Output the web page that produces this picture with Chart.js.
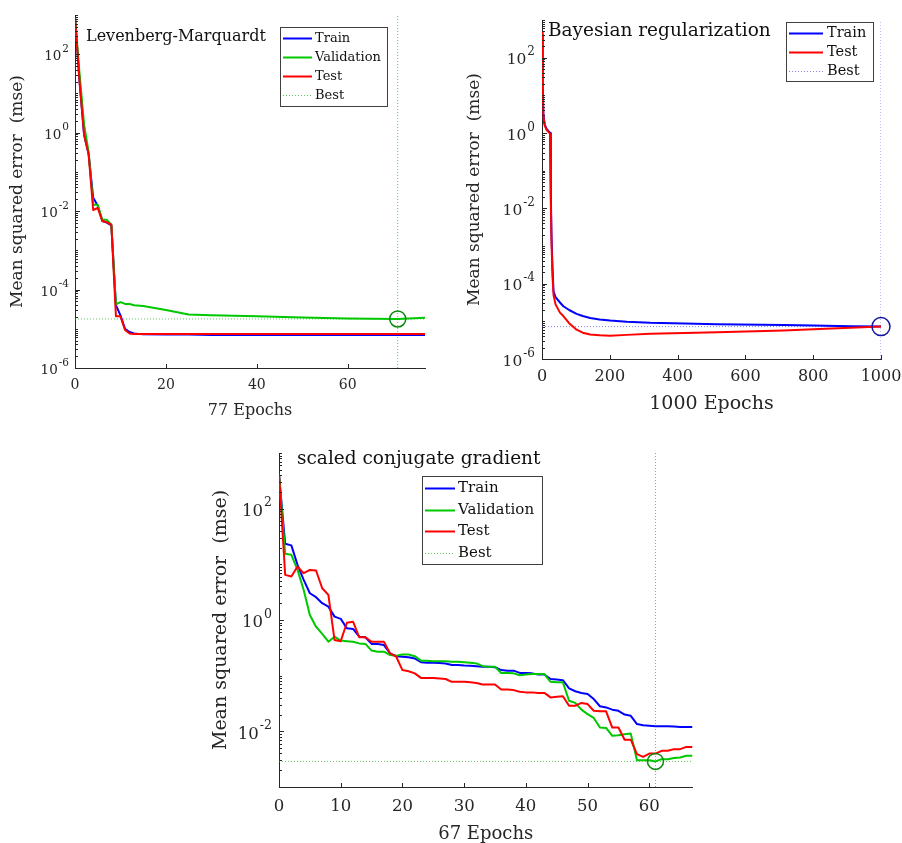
<!DOCTYPE html>
<html><head><meta charset="utf-8">
<script src="https://cdn.jsdelivr.net/npm/chart.js@4.4.1/dist/chart.umd.min.js"></script>
<style>
html,body{margin:0;padding:0;background:#fff;}
body{width:902px;height:843px;position:relative;overflow:hidden;}
.box{position:absolute;}
</style></head><body>
<div class="box" style="left:0;top:0;width:450px;height:430px"><canvas id="c1"></canvas></div>
<div class="box" style="left:450px;top:0;width:452px;height:430px"><canvas id="c2"></canvas></div>
<div class="box" style="left:200px;top:440px;width:502px;height:403px"><canvas id="c3"></canvas></div>
<script>
// ---------------- DATA ----------------
// Levenberg-Marquardt (77 epochs)
const lmEpochs = [0,1,2,3,4,5,6,7,8,9,10,11,12,13,15,20,25,30,40,50,60,71,77];
const lmTrain  = [890,20,0.89,0.28,0.022,0.0138,0.0056,0.0051,0.0043,4.0e-5,2.2e-5,1.0e-5,8.3e-6,7.6e-6,7.2e-6,7.1e-6,7.1e-6,6.9e-6,6.9e-6,6.9e-6,6.9e-6,6.9e-6,6.9e-6];
const lmVal    = [890,32,1.6,0.32,0.0145,0.0145,0.006,0.006,0.0045,4.2e-5,4.8e-5,4.3e-5,4.3e-5,4.0e-5,3.8e-5,3.0e-5,2.3e-5,2.2e-5,2.1e-5,1.95e-5,1.84e-5,1.78e-5,1.9e-5];
const lmTest   = [890,20,0.89,0.28,0.0107,0.012,0.0056,0.0052,0.0045,2.1e-5,2.1e-5,9.3e-6,7.6e-6,7.4e-6,7.4e-6,7.4e-6,7.4e-6,7.4e-6,7.4e-6,7.4e-6,7.4e-6,7.4e-6,7.4e-6];
const lmBestEpoch = 71, lmBest = 1.78e-5;

// Bayesian regularization (1000 epochs)
const brEpochs = [0,2,4,8,14,20,24,26,28,31,34,40,53,63,80,102,120,142,170,201,250,319,420,516,713,800,910,1000];
const brTrain  = [398,20,3.16,1.66,1.26,1.1,1.0,0.0251,0.002,2.51e-4,6.31e-5,4.37e-5,3.16e-5,2.51e-5,2.0e-5,1.58e-5,1.38e-5,1.23e-5,1.12e-5,1.05e-5,9.77e-6,9.12e-6,8.71e-6,8.32e-6,7.94e-6,7.76e-6,7.41e-6,7.24e-6];
const brTest   = [490,20,2.82,1.58,1.2,1.05,0.933,0.0158,0.00126,1.58e-4,5.0e-5,2.82e-5,1.7e-5,1.38e-5,8.9e-6,6.0e-6,5.0e-6,4.47e-6,4.27e-6,4.17e-6,4.37e-6,4.68e-6,4.9e-6,5.13e-6,5.75e-6,6.17e-6,6.76e-6,7.24e-6];
const brBestEpoch = 1000, brBest = 7.24e-6;

// Scaled conjugate gradient (67 epochs)
const scgEpochs = [0,1,2,3,4,5,6,7,8,9,10,11,12,13,14,15,16,17,18,19,20,21,22,23,24,25,26,27,28,29,30,31,32,33,34,35,36,37,38,39,40,41,42,43,44,45,46,47,48,49,50,51,52,53,54,55,56,57,58,59,60,61,62,63,64,65,66,67];
const scgTrain = [417,23.4,21.9,9.77,5.25,3.02,2.57,2.0,1.74,1.15,1.05,0.708,0.692,0.501,0.49,0.372,0.372,0.355,0.251,0.224,0.219,0.214,0.204,0.174,0.17,0.17,0.169,0.166,0.155,0.155,0.152,0.151,0.148,0.145,0.145,0.142,0.126,0.123,0.123,0.112,0.112,0.11,0.105,0.105,0.087,0.085,0.083,0.059,0.0525,0.049,0.0468,0.038,0.0282,0.0269,0.0245,0.0234,0.02,0.019,0.0135,0.0129,0.0126,0.0123,0.0123,0.0123,0.0122,0.012,0.012,0.012];
const scgVal   = [417,15.5,14.8,7.94,3.47,1.23,0.759,0.562,0.407,0.501,0.427,0.417,0.407,0.38,0.372,0.282,0.269,0.269,0.234,0.229,0.24,0.24,0.224,0.186,0.186,0.182,0.182,0.182,0.178,0.178,0.174,0.17,0.166,0.148,0.145,0.145,0.112,0.112,0.11,0.102,0.105,0.107,0.107,0.107,0.0776,0.0759,0.0759,0.0355,0.0324,0.0245,0.0204,0.0174,0.0117,0.0115,0.0083,0.0085,0.0089,0.0091,0.00302,0.00302,0.00302,0.00288,0.00316,0.00316,0.00331,0.00339,0.00363,0.00363];
const scgTest  = [417,6.46,6.03,9.12,6.92,7.94,7.76,3.72,2.82,0.437,0.417,0.891,0.933,0.49,0.49,0.407,0.407,0.407,0.251,0.219,0.126,0.12,0.11,0.0912,0.0912,0.0912,0.0891,0.0871,0.0776,0.0776,0.0776,0.0759,0.0741,0.0692,0.0692,0.0692,0.0562,0.0562,0.055,0.0513,0.0501,0.0501,0.049,0.049,0.0407,0.0417,0.0427,0.0288,0.0288,0.0324,0.0309,0.0234,0.0229,0.0229,0.0117,0.0117,0.00708,0.00708,0.00389,0.00347,0.00398,0.00398,0.00447,0.00447,0.00479,0.00479,0.00525,0.00525];
const scgBestEpoch = 61, scgBest = 0.00288;

// ---------------- RENDERING ----------------
const AX = '#262626';
const TXT = '#111111';
const FONT = '"DejaVu Serif", serif';
const xy = (xs, ys) => xs.map((x, i) => ({x: x, y: ys[i]}));

const overlay = {
  id: 'overlay',
  afterDraw(chart, args, o) {
    const ctx = chart.ctx;
    const {left, right, top, bottom} = chart.chartArea;
    const xs = chart.scales.x, ys = chart.scales.y;
    ctx.save();
    // inward tick marks
    ctx.strokeStyle = AX; ctx.lineWidth = 1; ctx.beginPath();
    xs.ticks.forEach(t => {
      const px = Math.round(xs.getPixelForValue(t.value)) + 0.5;
      ctx.moveTo(px, bottom); ctx.lineTo(px, bottom - o.xTick);
    });
    const e0 = Math.round(Math.log10(ys.min)), e1 = Math.round(Math.log10(ys.max));
    for (let e = e0; e <= e1; e++) {
      for (let m = 1; m <= 9; m++) {
        const v = m * Math.pow(10, e);
        if (v > ys.max * 1.0001) break;
        const py = Math.round(ys.getPixelForValue(v)) + 0.5;
        const len = (m === 1 && e % 2 === 0) ? o.major : o.minor;
        ctx.moveTo(left, py); ctx.lineTo(left + len, py);
      }
    }
    ctx.stroke();
    // y tick labels: 10 with raised exponent (even decades)
    ctx.fillStyle = AX; ctx.textAlign = 'right'; ctx.textBaseline = 'middle';
    const Y = o.ylab;
    for (let e = e0; e <= e1; e++) {
      if (e % 2 !== 0) continue;
      const py = ys.getPixelForValue(Math.pow(10, e));
      const es = String(e);
      ctx.font = Y.exp + 'px ' + FONT;
      const ew = ctx.measureText(es).width;
      ctx.fillText(es, left - Y.pad, py + Y.expDy);
      ctx.font = Y.base + 'px ' + FONT;
      ctx.fillText('10', left - Y.pad - ew - 1, py + Y.baseDy);
    }
    // in-plot title
    ctx.fillStyle = TXT; ctx.textAlign = 'left'; ctx.textBaseline = 'alphabetic';
    ctx.font = o.titleSize + 'px ' + FONT;
    ctx.fillText(o.title, o.titleX, o.titleY);
    // legend
    const L = o.legend;
    ctx.fillStyle = '#ffffff'; ctx.fillRect(L.x, L.y, L.w, L.h);
    ctx.strokeStyle = '#404040'; ctx.lineWidth = 1;
    ctx.strokeRect(L.x + 0.5, L.y + 0.5, L.w, L.h);
    ctx.font = L.size + 'px ' + FONT; ctx.textBaseline = 'middle';
    L.items.forEach((lab, i) => {
      const ds = chart.data.datasets.find(d => d.label === lab);
      const cy = Math.round(L.y + L.first + i * L.row) + 0.5;
      ctx.strokeStyle = ds.borderColor; ctx.lineWidth = ds.borderWidth;
      ctx.setLineDash(ds.borderDash || []);
      ctx.beginPath(); ctx.moveTo(L.lx0, cy); ctx.lineTo(L.lx1, cy); ctx.stroke();
      ctx.setLineDash([]);
      ctx.fillStyle = TXT; ctx.fillText(lab, L.tx, cy);
    });
    ctx.restore();
  }
};

function lineDs(label, data, color, order) {
  return {label, data, borderColor: color, backgroundColor: color, borderWidth: 2,
    pointRadius: 0, tension: 0, fill: false, order, borderJoinStyle: 'round'};
}

function makeChart(id, c) {
  const ds = [];
  c.series.forEach(s => ds.push(lineDs(s.label, xy(c.epochs, s.data), s.color, s.order)));
  ds.push({label: 'Best', data: [{x: c.xMin, y: c.best}, {x: c.xMax, y: c.best}],
    borderColor: c.bestLine, borderWidth: 1, borderDash: [1, 2], pointRadius: 0, order: 6, fill: false});
  ds.push({label: '_bestV', data: [{x: c.bestEpoch, y: c.yMin}, {x: c.bestEpoch, y: c.yMax}],
    borderColor: c.bestLine, borderWidth: 1, borderDash: [1, 2], pointRadius: 0, order: 6, fill: false});
  ds.push({label: '_bestPt', data: [{x: c.bestEpoch, y: c.best}], showLine: false,
    pointRadius: c.circleR, pointBorderWidth: 1.5, pointBorderColor: c.circle,
    pointBackgroundColor: 'rgba(0,0,0,0)', borderColor: c.circle, clip: false, order: 0});
  return new Chart(document.getElementById(id), {
    type: 'line',
    data: {datasets: ds},
    options: {
      responsive: true, maintainAspectRatio: false, animation: false, devicePixelRatio: 1,
      layout: {padding: c.pad},
      plugins: {legend: {display: false}, tooltip: {enabled: false}, overlay: c.overlay},
      scales: {
        x: {type: 'linear', min: c.xMin, max: c.xMax,
          grid: {display: false, drawTicks: false}, border: {display: true, color: AX, width: 1},
          ticks: {stepSize: c.xStep, includeBounds: false, autoSkip: false, maxRotation: 0, padding: c.xPad, color: AX,
            font: {family: FONT, size: c.tickSize, lineHeight: 1}, callback: v => String(v)},
          title: {display: true, text: c.xTitle, color: AX, font: {family: FONT, size: c.xTitleSize, lineHeight: 1},
            padding: {top: 0, bottom: c.xTitlePad}},
          afterFit(s) { s.height = c.xH; s.paddingLeft = 0; s.paddingRight = 0; }
        },
        y: {type: 'logarithmic', min: c.yMin, max: c.yMax,
          grid: {display: false, drawTicks: false}, border: {display: true, color: AX, width: 1},
          ticks: {display: false, autoSkip: false},
          title: {display: true, text: 'Mean squared error  (mse)', color: AX,
            font: {family: FONT, size: c.yTitleSize, lineHeight: 1}, padding: {top: c.yTitlePad, bottom: 0}},
          afterFit(s) { s.width = c.yW; s.paddingTop = 0; s.paddingBottom = 0; }
        }
      }
    },
    plugins: [overlay]
  });
}

const BLUE = '#0000ff', GREEN = '#00c800', RED = '#ff0000';

makeChart('c1', {
  epochs: lmEpochs,
  series: [{label: 'Train', data: lmTrain, color: BLUE, order: 3},
           {label: 'Validation', data: lmVal, color: GREEN, order: 2},
           {label: 'Test', data: lmTest, color: RED, order: 1}],
  xMin: 0, xMax: 77, xStep: 20, yMin: 1e-6, yMax: 1e3,
  best: lmBest, bestEpoch: lmBestEpoch, bestLine: 'rgba(40,180,40,0.75)', circle: '#0a8a0a', circleR: 8,
  pad: {left: 0, top: 15, right: 25, bottom: 0}, xH: 62, yW: 75,
  tickSize: 14, xPad: 10, xTitle: '77 Epochs', xTitleSize: 16, xTitlePad: 11, yTitleSize: 17, yTitlePad: 9,
  overlay: {xTick: 4, major: 5, minor: 3, title: 'Levenberg-Marquardt', titleSize: 16, titleX: 86, titleY: 41,
    ylab: {base: 13.5, exp: 10.5, pad: 6, baseDy: 2.5, expDy: -5},
    legend: {x: 280, y: 27, w: 107, h: 79, first: 11, row: 19, lx0: 283, lx1: 312, tx: 315, size: 13,
      items: ['Train', 'Validation', 'Test', 'Best']}}
});

makeChart('c2', {
  epochs: brEpochs,
  series: [{label: 'Train', data: brTrain, color: BLUE, order: 3},
           {label: 'Test', data: brTest, color: RED, order: 1}],
  xMin: 0, xMax: 1000, xStep: 200, yMin: 1e-6, yMax: 1e3,
  best: brBest, bestEpoch: brBestEpoch, bestLine: 'rgba(80,80,235,0.7)', circle: '#1414a0', circleR: 9,
  pad: {left: 0, top: 20, right: 21, bottom: 0}, xH: 71, yW: 92,
  tickSize: 16, xPad: 10, xTitle: '1000 Epochs', xTitleSize: 19, xTitlePad: 16, yTitleSize: 17, yTitlePad: 16,
  overlay: {xTick: 4, major: 5, minor: 3, title: 'Bayesian regularization', titleSize: 18.5, titleX: 98, titleY: 36,
    ylab: {base: 15.5, exp: 12, pad: 7, baseDy: 2.5, expDy: -5.5},
    legend: {x: 336, y: 22, w: 87, h: 59, first: 11, row: 19, lx0: 339, lx1: 373, tx: 377, size: 14.5,
      items: ['Train', 'Test', 'Best']}}
});

makeChart('c3', {
  epochs: scgEpochs,
  series: [{label: 'Train', data: scgTrain, color: BLUE, order: 3},
           {label: 'Validation', data: scgVal, color: GREEN, order: 2},
           {label: 'Test', data: scgTest, color: RED, order: 1}],
  xMin: 0, xMax: 67, xStep: 10, yMin: 1e-3, yMax: 1e3,
  best: scgBest, bestEpoch: scgBestEpoch, bestLine: 'rgba(40,180,40,0.75)', circle: '#0a8a0a', circleR: 8,
  pad: {left: 0, top: 13, right: 8, bottom: 0}, xH: 56, yW: 79,
  tickSize: 16.5, xPad: 11, xTitle: '67 Epochs', xTitleSize: 18, xTitlePad: 0, yTitleSize: 19, yTitlePad: 12,
  overlay: {xTick: 4, major: 5, minor: 3, title: 'scaled conjugate gradient', titleSize: 18.5, titleX: 97, titleY: 24,
    ylab: {base: 16.5, exp: 12.5, pad: 7, baseDy: 3, expDy: -5.5},
    legend: {x: 222, y: 36, w: 120, h: 88, first: 12, row: 21.7, lx0: 225, lx1: 255, tx: 258, size: 15,
      items: ['Train', 'Validation', 'Test', 'Best']}}
});
</script>
</body></html>
